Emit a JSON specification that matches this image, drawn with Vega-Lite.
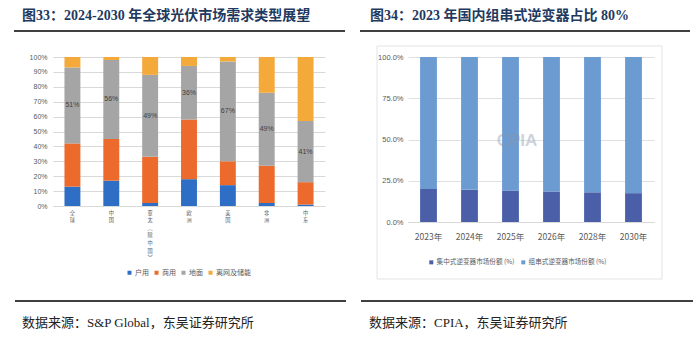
{
  "$schema": "https://vega.github.io/schema/vega-lite/v6.json",
  "background": "white",
  "padding": {"left": 13, "top": 9, "right": 0, "bottom": 0},
  "spacing": 12,
  "align": "none",
  "resolve": {"scale": {"color": "independent", "x": "independent", "y": "independent"}, "legend": {"color": "independent"}},
  "config": {"view": {"stroke": null}, "font": "Liberation Sans, Noto Sans CJK SC"},
  "datasets": {
    "demand": [
      {"region": "全球", "type": "户用", "value": 13, "k": 1},
      {"region": "全球", "type": "商用", "value": 29, "k": 2},
      {"region": "全球", "type": "地面", "value": 51, "k": 3, "label": "51%"},
      {"region": "全球", "type": "离网及储能", "value": 7, "k": 4},
      {"region": "中国", "type": "户用", "value": 17, "k": 1},
      {"region": "中国", "type": "商用", "value": 28, "k": 2},
      {"region": "中国", "type": "地面", "value": 53, "k": 3, "label": "56%"},
      {"region": "中国", "type": "离网及储能", "value": 2, "k": 4},
      {"region": "亚太︵除中国︶", "type": "户用", "value": 2, "k": 1},
      {"region": "亚太︵除中国︶", "type": "商用", "value": 31, "k": 2},
      {"region": "亚太︵除中国︶", "type": "地面", "value": 55, "k": 3, "label": "49%"},
      {"region": "亚太︵除中国︶", "type": "离网及储能", "value": 12, "k": 4},
      {"region": "欧洲", "type": "户用", "value": 18, "k": 1},
      {"region": "欧洲", "type": "商用", "value": 40, "k": 2},
      {"region": "欧洲", "type": "地面", "value": 36, "k": 3, "label": "36%"},
      {"region": "欧洲", "type": "离网及储能", "value": 6, "k": 4},
      {"region": "美国", "type": "户用", "value": 14, "k": 1},
      {"region": "美国", "type": "商用", "value": 16, "k": 2},
      {"region": "美国", "type": "地面", "value": 67, "k": 3, "label": "67%"},
      {"region": "美国", "type": "离网及储能", "value": 3, "k": 4},
      {"region": "非洲", "type": "户用", "value": 2, "k": 1},
      {"region": "非洲", "type": "商用", "value": 25, "k": 2},
      {"region": "非洲", "type": "地面", "value": 49, "k": 3, "label": "49%"},
      {"region": "非洲", "type": "离网及储能", "value": 24, "k": 4},
      {"region": "中东", "type": "户用", "value": 1, "k": 1},
      {"region": "中东", "type": "商用", "value": 15, "k": 2},
      {"region": "中东", "type": "地面", "value": 41, "k": 3, "label": "41%"},
      {"region": "中东", "type": "离网及储能", "value": 43, "k": 4}
    ],
    "inverter": [
      {"year": "2023年", "series": "集中式逆变器市场份额 (%)", "value": 20, "k": 1},
      {"year": "2023年", "series": "组串式逆变器市场份额 (%)", "value": 80, "k": 2},
      {"year": "2024年", "series": "集中式逆变器市场份额 (%)", "value": 19.5, "k": 1},
      {"year": "2024年", "series": "组串式逆变器市场份额 (%)", "value": 80.5, "k": 2},
      {"year": "2025年", "series": "集中式逆变器市场份额 (%)", "value": 19, "k": 1},
      {"year": "2025年", "series": "组串式逆变器市场份额 (%)", "value": 81, "k": 2},
      {"year": "2026年", "series": "集中式逆变器市场份额 (%)", "value": 18.5, "k": 1},
      {"year": "2026年", "series": "组串式逆变器市场份额 (%)", "value": 81.5, "k": 2},
      {"year": "2028年", "series": "集中式逆变器市场份额 (%)", "value": 18, "k": 1},
      {"year": "2028年", "series": "组串式逆变器市场份额 (%)", "value": 82, "k": 2},
      {"year": "2030年", "series": "集中式逆变器市场份额 (%)", "value": 17.5, "k": 1},
      {"year": "2030年", "series": "组串式逆变器市场份额 (%)", "value": 82.5, "k": 2}
    ]
  },
  "hconcat": [
    {
      "width": 272,
      "height": 149,
      "layer": [
        {
          "data": {"name": "demand"},
          "mark": {"type": "bar"},
          "encoding": {
            "x": {
              "field": "region", "type": "nominal", "sort": null,
              "scale": {"domain": ["全球", "中国", "亚太︵除中国︶", "欧洲", "美国", "非洲", "中东"], "paddingInner": 0.59, "paddingOuter": 0.295},
              "axis": {"title": null, "labelAngle": 0, "labelExpr": "split(datum.label, '')", "labelFont": "Noto Sans CJK SC", "labelFontSize": 5.2, "labelLineHeight": 7.6, "labelBaseline": "top", "labelAlign": "center", "labelPadding": 4, "labelColor": "#595959", "labelOverlap": false, "domain": true, "domainColor": "#d9d9d9", "ticks": false}
            },
            "y": {
              "field": "value", "type": "quantitative", "stack": "zero",
              "scale": {"domain": [0, 100], "nice": false},
              "axis": {"title": null, "values": [0, 10, 20, 30, 40, 50, 60, 70, 80, 90, 100], "labelExpr": "datum.value + '%'", "labelFontSize": 7, "labelColor": "#595959", "labelPadding": 6, "labelOverlap": false, "grid": true, "gridColor": "#d9d9d9", "domain": false, "ticks": false}
            },
            "color": {
              "field": "type", "type": "nominal",
              "scale": {"domain": ["户用", "商用", "地面", "离网及储能"], "range": ["#2e6fc5", "#ec6a2c", "#a5a5a5", "#f4a93b"]},
              "legend": {"title": null, "orient": "none", "legendX": 73, "legendY": 212, "direction": "horizontal", "symbolType": "square", "symbolSize": 16, "symbolStrokeWidth": 0, "labelFont": "Noto Sans CJK SC", "labelFontSize": 7, "labelColor": "#595959", "labelOffset": 2, "columnPadding": 4}
            },
            "order": {"field": "k", "type": "quantitative"}
          }
        },
        {
          "data": {"name": "demand"},
          "transform": [
            {"stack": "value", "groupby": ["region"], "sort": [{"field": "k", "order": "ascending"}], "as": ["v0", "v1"]},
            {"filter": "datum.type === '地面'"},
            {"calculate": "(datum.v0 + datum.v1) / 2", "as": "mid"}
          ],
          "mark": {"type": "text", "fontSize": 7, "color": "#404040", "baseline": "middle"},
          "encoding": {
            "x": {
              "field": "region", "type": "nominal", "sort": null,
              "scale": {"domain": ["全球", "中国", "亚太︵除中国︶", "欧洲", "美国", "非洲", "中东"], "paddingInner": 0.59, "paddingOuter": 0.295},
              "axis": {"title": null, "labelAngle": 0, "labelExpr": "split(datum.label, '')", "labelFont": "Noto Sans CJK SC", "labelFontSize": 5.2, "labelLineHeight": 7.6, "labelBaseline": "top", "labelAlign": "center", "labelPadding": 4, "labelColor": "#595959", "labelOverlap": false, "domain": true, "domainColor": "#d9d9d9", "ticks": false}
            },
            "y": {
              "field": "mid", "type": "quantitative",
              "scale": {"domain": [0, 100], "nice": false},
              "axis": {"title": null, "values": [0, 10, 20, 30, 40, 50, 60, 70, 80, 90, 100], "labelExpr": "datum.value + '%'", "labelFontSize": 7, "labelColor": "#595959", "labelPadding": 6, "labelOverlap": false, "grid": true, "gridColor": "#d9d9d9", "domain": false, "ticks": false}
            },
            "text": {"field": "label"}
          }
        },
        {
          "data": {"values": [{"t": "图33：2024-2030 年全球光伏市场需求类型展望"}]},
          "mark": {"type": "text", "align": "left", "baseline": "middle", "font": "Liberation Serif, Noto Sans CJK SC", "fontSize": 14, "fontWeight": "bold", "color": "#1f3a60"},
          "encoding": {"text": {"field": "t"}, "x": {"value": -31}, "y": {"value": -41}}
        },
        {
          "data": {"values": [{}]},
          "mark": {"type": "rule", "color": "#404040", "strokeWidth": 2},
          "encoding": {"x": {"value": -39}, "x2": {"value": 292}, "y": {"value": -26}}
        },
        {
          "data": {"values": [{}]},
          "mark": {"type": "rule", "color": "#404040", "strokeWidth": 2},
          "encoding": {"x": {"value": -38}, "x2": {"value": 293}, "y": {"value": 244}}
        },
        {
          "data": {"values": [{"t": "数据来源：S&P Global，东吴证券研究所"}]},
          "mark": {"type": "text", "align": "left", "baseline": "middle", "font": "Liberation Serif, Noto Sans CJK SC", "fontSize": 13, "color": "#222222"},
          "encoding": {"text": {"field": "t"}, "x": {"value": -31}, "y": {"value": 266}}
        }
      ]
    },
    {
      "width": 246,
      "height": 165,
      "layer": [
        {
          "data": {"values": [{}]},
          "mark": {"type": "rect", "filled": false, "stroke": "#e3e3e3", "strokeWidth": 1},
          "encoding": {"x": {"value": -31}, "x2": {"value": 254}, "y": {"value": -11}, "y2": {"value": 222}}
        },
        {
          "data": {"name": "inverter"},
          "mark": {"type": "bar"},
          "encoding": {
            "x": {
              "field": "year", "type": "nominal", "sort": null,
              "scale": {"paddingInner": 0.59, "paddingOuter": 0.295},
              "axis": {"title": null, "labelAngle": 0, "labelFont": "Liberation Sans Narrow, Noto Sans CJK SC", "labelFontSize": 8.5, "labelBaseline": "top", "labelPadding": 10, "labelColor": "#595959", "domain": true, "domainColor": "#d9d9d9", "ticks": false}
            },
            "y": {
              "field": "value", "type": "quantitative", "stack": "zero",
              "scale": {"domain": [0, 100], "nice": false},
              "axis": {"title": null, "values": [0, 25, 50, 75, 100], "labelExpr": "format(datum.value, '.1f') + '%'", "labelFont": "Liberation Sans Narrow, Liberation Sans", "labelFontSize": 7.5, "labelColor": "#595959", "labelPadding": 5, "labelOverlap": false, "grid": true, "gridColor": "#e0e0e0", "domain": false, "ticks": false}
            },
            "color": {
              "field": "series", "type": "nominal",
              "scale": {"domain": ["集中式逆变器市场份额 (%)", "组串式逆变器市场份额 (%)"], "range": ["#4a5fa7", "#6b9bd1"]},
              "legend": {"title": null, "orient": "none", "legendX": 20, "legendY": 202, "direction": "horizontal", "symbolType": "square", "symbolSize": 16, "symbolStrokeWidth": 0, "labelFont": "Noto Sans CJK SC", "labelFontSize": 6.6, "labelColor": "#595959", "labelOffset": 2, "columnPadding": 5}
            },
            "order": {"field": "k", "type": "quantitative"}
          }
        },
        {
          "data": {"values": [{"t": "CPIA"}]},
          "mark": {"type": "text", "align": "center", "baseline": "middle", "font": "Liberation Sans Narrow, Liberation Sans", "fontSize": 17, "fontWeight": "bold", "color": "#8a94a6", "opacity": 0.4},
          "encoding": {"text": {"field": "t"}, "x": {"value": 109}, "y": {"value": 84}}
        },
        {
          "data": {"values": [{"t": "图34：2023 年国内组串式逆变器占比 80%"}]},
          "mark": {"type": "text", "align": "left", "baseline": "middle", "font": "Liberation Serif, Noto Sans CJK SC", "fontSize": 14, "fontWeight": "bold", "color": "#1f3a60"},
          "encoding": {"text": {"field": "t"}, "x": {"value": -38}, "y": {"value": -41}}
        },
        {
          "data": {"values": [{}]},
          "mark": {"type": "rule", "color": "#404040", "strokeWidth": 2},
          "encoding": {"x": {"value": -48}, "x2": {"value": 282}, "y": {"value": -26}}
        },
        {
          "data": {"values": [{}]},
          "mark": {"type": "rule", "color": "#404040", "strokeWidth": 2},
          "encoding": {"x": {"value": -47}, "x2": {"value": 285}, "y": {"value": 244}}
        },
        {
          "data": {"values": [{"t": "数据来源：CPIA，东吴证券研究所"}]},
          "mark": {"type": "text", "align": "left", "baseline": "middle", "font": "Liberation Serif, Noto Sans CJK SC", "fontSize": 13, "color": "#222222"},
          "encoding": {"text": {"field": "t"}, "x": {"value": -39}, "y": {"value": 266}}
        }
      ]
    }
  ]
}
